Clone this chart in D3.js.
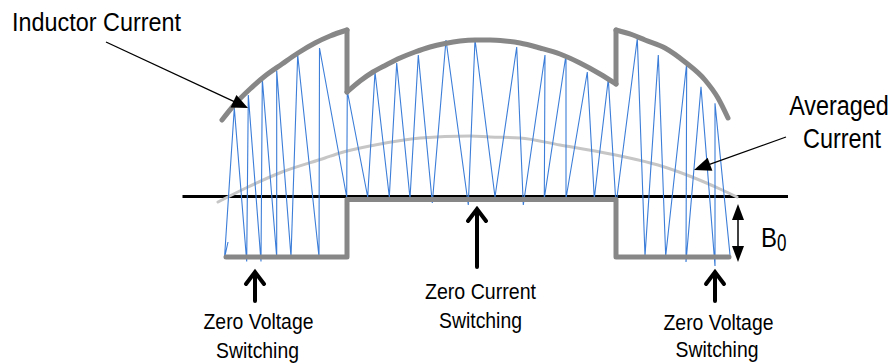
<!DOCTYPE html>
<html><head><meta charset="utf-8">
<script src="https://cdn.jsdelivr.net/npm/d3@7"></script>
<style>html,body{margin:0;padding:0;background:#fff;} svg{display:block}</style>
</head><body>
<svg id="c" width="894" height="364"></svg>
<script>
// time units (t) and current units (i); zero-current axis at i = 0, -B0 = -60
const sawT = [46, 42.5, 52.3, 64.7, 66.3, 79, 80.3, 94.7, 94.7, 109, 115.7, 137, 137.5, 164.7, 165.3, 185.7, 193, 207.3, 214.7, 228, 236.3, 250.3, 264, 286.3, 293, 313, 334.7, 341.3, 363, 362.3, 384, 384, 405.3, 412.3, 426.3, 434, 455.3, 463, 476.3, 483.7, 504.7, 504, 519, 533, 533, 548];
const sawI = [-45, -61, 89, -64.5, 102, -64.5, 118, -60, 126.5, -60, 142, -60, 149, 0, 106, 0, 125, 0, 134, -1.5, 142, -6, 157, -8, 157.5, 0, 150, -8, 142, -1.5, 142, -1.5, 125, -1.5, 118, -8, 158.5, -59, 142, -59, 133.7, -65, 110.3, -69, 93.7, -58];

const envLeftT = [40, 53, 68, 83, 100, 116, 133, 148, 165];
const envLeftI = [77, 93, 108, 121, 133, 144, 154, 161, 167];
const envMidT = [165, 178, 191, 204, 218, 233, 248, 263, 278, 293, 308, 323, 338, 358, 378, 398, 418, 434];
const envMidI = [105, 116, 125, 132, 139, 145, 150, 153.5, 156, 157, 157, 156, 154, 149, 143, 134, 123, 113];
const envRightT = [434, 451, 463, 483, 503, 523, 536, 546];
const envRightI = [167, 162, 157, 149, 135, 117, 99, 79];
const lowerT = [44, 165, 165, 434, 434, 547];
const lowerI = [-60, -60, -2.5, -2.5, -60, -60];

const avgT = [36, 66, 100, 143, 158, 193, 238, 288, 308, 338, 378, 418, 443, 476, 510, 538, 555];
const avgI = [-5, 10, 25, 39, 44, 52, 59, 61, 60, 59, 52, 45, 40, 32, 20, 8, 0];

const axisT = [0.5, 606];

const svg = d3.select("#c");
const x = d3.scaleLinear().domain([0, 600]).range([182, 782]);
const y = d3.scaleLinear().domain([-60, 167]).range([257, 30]);

const pts = (T, I) => T.map((t, k) => [t, I[k]]);
const lineStraight = d3.line().x(d => x(d[0])).y(d => y(d[1]));
const lineSmooth = d3.line().x(d => x(d[0])).y(d => y(d[1])).curve(d3.curveMonotoneX);

const GRAY = "#878787";

// zero axis
svg.append("path").attr("d", lineStraight(pts(axisT, [0.5, 0.5])))
  .attr("stroke", "#000").attr("stroke-width", 3).attr("fill", "none");

// averaged current
svg.append("path").attr("d", lineSmooth(pts(avgT, avgI)))
  .attr("stroke", "#c6c6c6").attr("stroke-width", 3).attr("fill", "none")
  .attr("stroke-linecap", "round");

// inductor current (triangular)
svg.append("path").attr("d", lineStraight(pts(sawT, sawI)))
  .attr("stroke", "#3b7dd8").attr("stroke-width", 1.1).attr("fill", "none")
  .attr("stroke-linejoin", "miter");

// lower envelope
svg.append("path").attr("d", lineStraight(pts(lowerT, lowerI)))
  .attr("stroke", GRAY).attr("stroke-width", 5).attr("fill", "none")
  .attr("stroke-linecap", "round").attr("stroke-linejoin", "round");

// upper envelope arcs
function envArc(T, I) {
  svg.append("path").attr("d", lineSmooth(pts(T, I)))
    .attr("stroke", GRAY).attr("stroke-width", 5).attr("fill", "none")
    .attr("stroke-linecap", "round");
}
envArc(envLeftT, envLeftI);
envArc(envMidT, envMidI);
envArc(envRightT, envRightI);
// vertical jumps
[[165, 167, 105], [434, 113, 167]].forEach(([t, a, b]) => {
  svg.append("path").attr("d", lineStraight([[t, a], [t, b]]))
    .attr("stroke", GRAY).attr("stroke-width", 5).attr("fill", "none")
    .attr("stroke-linecap", "round");
});

// text helper with slight vertical stretch
function label(px, py, txt, size, anchor, sy) {
  const g = svg.append("g").attr("transform", `translate(${px},${py}) scale(1,${sy})`);
  g.append("text").attr("x", 0).attr("y", 0).attr("text-anchor", anchor)
    .attr("font-family", "'Liberation Sans', Arial, sans-serif")
    .attr("font-size", size).attr("fill", "#000").text(txt);
}

// pointer arrow with filled head
function pointer(x0, y0, x1, y1, len, hw) {
  const dx = x1 - x0, dy = y1 - y0, L = Math.hypot(dx, dy);
  const ux = dx / L, uy = dy / L;
  const bx = x1 - ux * len, by = y1 - uy * len;
  svg.append("line").attr("x1", x0).attr("y1", y0).attr("x2", bx + ux * 2).attr("y2", by + uy * 2)
    .attr("stroke", "#000").attr("stroke-width", 1.3);
  svg.append("polygon").attr("points",
    `${x1},${y1} ${bx - uy * hw},${by + ux * hw} ${bx + uy * hw},${by - ux * hw}`)
    .attr("fill", "#000");
}

label(12, 31, "Inductor Current", 23.4, "start", 1.09);
pointer(106, 42, x(66), y(89), 16, 7);

label(839, 115, "Averaged", 23.4, "middle", 1.16);
label(842, 148.3, "Current", 23.4, "middle", 1.16);
pointer(786, 137, x(512), y(27), 17, 7);

// up arrows for switching annotations
function upArrow(px, tip, bottom) {
  svg.append("path")
    .attr("d", `M${px},${bottom} L${px},${tip + 1} M${px - 9},${tip + 13} L${px},${tip + 1} L${px + 9},${tip + 13}`)
    .attr("stroke", "#000").attr("stroke-width", 4).attr("fill", "none")
    .attr("stroke-linecap", "round").attr("stroke-linejoin", "miter");
}
upArrow(255, 271, 301);
upArrow(477, 208, 267);
upArrow(715, 271, 301);

label(258.5, 329.3, "Zero Voltage", 19.4, "middle", 1.15);
label(257.5, 358, "Switching", 19.4, "middle", 1.15);
label(480.5, 299.3, "Zero Current", 19.6, "middle", 1.15);
label(480.5, 328.3, "Switching", 19.4, "middle", 1.15);
label(718.5, 330, "Zero Voltage", 19.4, "middle", 1.15);
label(717, 357, "Switching", 19.4, "middle", 1.15);

// B0 dimension arrow
const bx = 738, bTop = y(-7), bBot = y(-65);
svg.append("line").attr("x1", bx).attr("y1", bTop + 10).attr("x2", bx).attr("y2", bBot - 10)
  .attr("stroke", "#000").attr("stroke-width", 1.5);
svg.append("polygon").attr("points", `${bx},${bTop} ${bx - 6},${bTop + 16} ${bx + 6},${bTop + 16}`).attr("fill", "#000");
svg.append("polygon").attr("points", `${bx},${bBot} ${bx - 6},${bBot - 16} ${bx + 6},${bBot - 16}`).attr("fill", "#000");
label(761, 246.7, "B", 24, "start", 1.16);
label(777, 250.7, "0", 17, "start", 1.38);
</script>
</body></html>
